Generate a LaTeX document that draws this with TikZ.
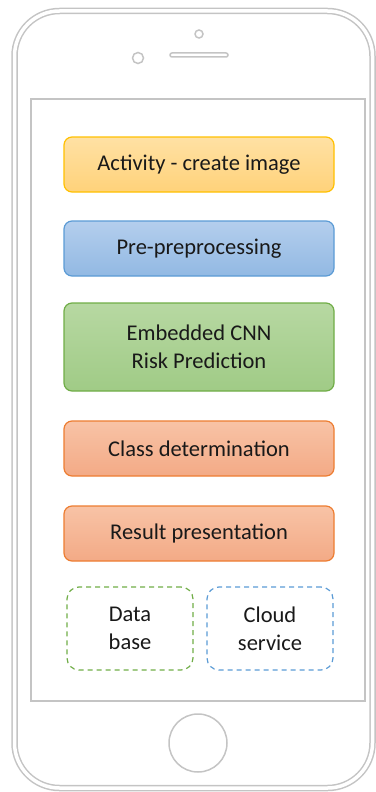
\documentclass[tikz,border=0pt]{standalone}
\usepackage{fontspec}
\setmainfont{Carlito}
\usetikzlibrary{positioning}

\definecolor{phonegray}{HTML}{C4C4C4}
\definecolor{yelline}{HTML}{FFC000}
\definecolor{yeltop}{HTML}{FFE1A4}
\definecolor{yelbot}{HTML}{FFD27A}
\definecolor{blueline}{HTML}{5B9BD5}
\definecolor{bluetop}{HTML}{B4CEED}
\definecolor{bluebot}{HTML}{92B9E3}
\definecolor{greenline}{HTML}{70AD47}
\definecolor{greentop}{HTML}{B7D8A2}
\definecolor{greenbot}{HTML}{A0CB86}
\definecolor{orgline}{HTML}{ED7D31}
\definecolor{orgtop}{HTML}{F8C3A6}
\definecolor{orgbot}{HTML}{F3AA86}

\begin{document}
\begin{tikzpicture}[x=1pt,y=-1pt,node distance=29pt,
  box/.style={rounded corners=8pt,minimum width=270pt,minimum height=55pt,
    line width=1.2pt,align=center,text=black!90,outer sep=0pt,
    font=\fontsize{22.5}{28}\selectfont},
  yelbox/.style={box,draw=yelline,top color=yeltop,bottom color=yelbot},
  bluebox/.style={box,draw=blueline,top color=bluetop,bottom color=bluebot},
  greenbox/.style={box,draw=greenline,top color=greentop,bottom color=greenbot},
  orgbox/.style={box,draw=orgline,top color=orgtop,bottom color=orgbot},
  store/.style={box,draw,dashed,dash pattern=on 5pt off 4pt,minimum width=126pt,
    minimum height=83pt,rounded corners=12pt},
  phoneline/.style={draw=phonegray,line width=1.5pt}]

\useasboundingbox (0,0) rectangle (375,792);

% phone body
\draw[phoneline,double=white,double distance=3.5pt,rounded corners=45pt]
  (14.5,11) rectangle (372.5,788);
\draw[phoneline] (31,99) rectangle (365,701);
\draw[phoneline] (199,34) circle (4pt);
\draw[phoneline] (138,58) circle (5.5pt);
\draw[phoneline,rounded corners=2pt] (170,53) rectangle (228,57);
\draw[phoneline] (198,743) circle (29pt);

% app steps
\node[yelbox]   (act)      at (199,164.5)  {Activity - create image};
\node[bluebox]  (pre)      [below=of act]  {Pre-preprocessing};
\node[greenbox,minimum height=88pt] (cnn) [below=27pt of pre] {Embedded CNN\\Risk Prediction};
\node[orgbox]   (cls)      [below=30pt of cnn]  {Class determination};
\node[orgbox]   (res)      [below=30pt of cls]  {Result presentation};

% storage
\node[store,draw=greenline,anchor=north west] (db)
  [below right=26pt and 3pt of res.south west] {Data\\base};
\node[store,draw=blueline,anchor=north east] (cloud)
  [below left=26pt and 1pt of res.south east] {Cloud\\service};

\end{tikzpicture}
\end{document}
